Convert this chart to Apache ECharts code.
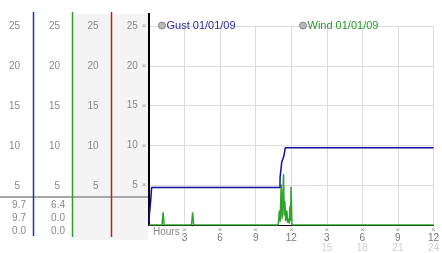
<!DOCTYPE html>
<html>
<head>
<meta charset="utf-8">
<script src="https://cdn.jsdelivr.net/npm/echarts@6/dist/echarts.min.js"></script>
<style>html,body{margin:0;padding:0;background:#fff}#c{width:442px;height:253px}</style>
</head>
<body>
<div id="c"></div>
<script>
// ---- data ----
const gustHours  = [0, 0.04, 0.1, 0.14, 0.22, 11.05, 11.06, 11.18, 11.2, 11.35, 11.37, 11.47, 11.5, 24];
const gustValues = [0.3, 1.4, 1.5, 3.0, 4.7, 4.7, 6.0, 6.1, 7.9, 7.9, 8.6, 8.6, 9.7, 9.7];
const windHours  = [0, 1.1, 1.19, 1.28, 3.59, 3.68, 3.77, 10.9, 11.0, 11.07, 11.15, 11.23, 11.27, 11.35, 11.41, 11.46, 11.54, 11.63, 11.7, 11.77, 11.83, 11.9, 11.94, 11.99, 12.06, 24];
const windValues = [0, 0, 1.6, 0, 0, 1.6, 0, 0, 1.8, 0.4, 5.1, 0.8, 2.2, 6.4, 1.2, 3.0, 0.5, 1.8, 0.3, 0.8, 0.2, 2.4, 0.5, 4.8, 0, 0];
const seriesNames = ['Gust 01/01/09', 'Wind 01/01/09'];
const xTickValues = [3, 6, 9, 12, 15, 18, 21, 24];
const clockLabels = ['3', '6', '9', '12', '3', '6', '9', '12'];
const hourLabels  = ['', '', '', '', '15', '18', '21', '24'];
const gustStats = ['9.7', '9.7', '0.0'];
const windStats = ['6.4', '0.0', '0.0'];

const FONT = 'Liberation Sans';
const gustData = gustHours.map((h, i) => [h, gustValues[i]]);
const windData = windHours.map((h, i) => [h, windValues[i]]);

function yLab(v) { return v === 0 ? '' : String(v); }

const colGrids = [33, 72, 111];
const grids = [{left: 149, right: 5, top: 26, bottom: 27}];
colGrids.forEach(l => grids.push({left: l, width: 1, top: 26, bottom: 27}));

const xAxes = [{
  gridIndex: 0, type: 'value', min: 0, max: 24, interval: 3,
  axisLine: {show: true, lineStyle: {color: '#000', width: 1}},
  axisTick: {show: false},
  splitLine: {show: true, lineStyle: {color: '#dcdcdc', width: 1}},
  axisLabel: {
    margin: 2, fontFamily: FONT,
    formatter: function (v) {
      const i = xTickValues.indexOf(v);
      if (i < 0) return '';
      let s = '{m|×}\n{a|' + clockLabels[i] + '}';
      if (hourLabels[i]) s += '\n{b|' + hourLabels[i] + '}';
      return s;
    },
    rich: {
      m: {fontSize: 8, lineHeight: 6, color: '#999', fontFamily: FONT},
      a: {fontSize: 10, lineHeight: 10, color: '#777', fontFamily: FONT},
      b: {fontSize: 10, lineHeight: 10, color: '#d0d0d0', fontFamily: FONT}
    }
  }
}];
colGrids.forEach((l, i) => xAxes.push({gridIndex: i + 1, type: 'value', show: false, min: 0, max: 1}));

const yAxes = [{
  gridIndex: 0, type: 'value', min: 0, max: 25, interval: 5,
  axisLine: {show: true, lineStyle: {color: '#000', width: 2}},
  axisTick: {show: false},
  splitLine: {show: true, lineStyle: {color: '#dcdcdc', width: 1}},
  axisLabel: {
    margin: 2.5,
    formatter: function (v) { return v === 0 ? '' : '{n|' + v + '}{m|×}'; },
    rich: {
      n: {fontSize: 10, color: '#888', fontFamily: FONT},
      m: {fontSize: 8, color: '#999', fontFamily: FONT, padding: [0, 0, 0, 4]}
    }
  }
}];
const margins = [13, 12, 12.5];
colGrids.forEach((l, i) => yAxes.push({
  gridIndex: i + 1, type: 'value', min: 0, max: 25, interval: 5,
  axisLine: {show: false}, axisTick: {show: false}, splitLine: {show: false},
  axisLabel: {margin: margins[i], color: '#888', fontSize: 10, fontFamily: FONT, formatter: yLab}
}));

const graphics = [
  {type: 'rect', z: -10, shape: {x: 73, y: 14, width: 75, height: 226}, style: {fill: '#f4f4f4'}},
  {type: 'line', z: 50, shape: {x1: 0, y1: 197, x2: 148, y2: 197}, style: {stroke: '#a8a8a8', lineWidth: 2}},
  {type: 'line', z: 51, shape: {x1: 33.5, y1: 12, x2: 33.5, y2: 236}, style: {stroke: '#1c3c9c', lineWidth: 1.5}},
  {type: 'line', z: 51, shape: {x1: 72.5, y1: 12, x2: 72.5, y2: 237}, style: {stroke: '#2e9e2e', lineWidth: 1.5}},
  {type: 'line', z: 51, shape: {x1: 111.5, y1: 12, x2: 111.5, y2: 237}, style: {stroke: '#b02424', lineWidth: 1.5}},
  {type: 'line', z: 51, shape: {x1: 149, y1: 13, x2: 149, y2: 27}, style: {stroke: '#000', lineWidth: 2}},
  {type: 'text', z: 51, x: 153, y: 232, style: {text: 'Hours', fill: '#888', font: '10px "Liberation Sans"', textVerticalAlign: 'middle', textAlign: 'left'}}
];
const statRows = [205, 218, 231.5];
gustStats.forEach((s, i) => graphics.push({type: 'text', z: 51, x: 26, y: statRows[i],
  style: {text: s, fill: '#888', font: '10px "Liberation Sans"', textAlign: 'right', textVerticalAlign: 'middle'}}));
windStats.forEach((s, i) => graphics.push({type: 'text', z: 51, x: 65, y: statRows[i],
  style: {text: s, fill: '#888', font: '10px "Liberation Sans"', textAlign: 'right', textVerticalAlign: 'middle'}}));

const chart = echarts.init(document.getElementById('c'), null, {renderer: 'canvas'});
chart.setOption({
  animation: false,
  backgroundColor: '#fff',
  textStyle: {fontFamily: FONT},
  grid: grids,
  xAxis: xAxes,
  yAxis: yAxes,
  legend: [
    {data: [seriesNames[0]], left: 153, top: 15, icon: 'circle', itemWidth: 7, itemHeight: 7, itemGap: 0,
     textStyle: {color: '#2a2aa6', fontSize: 11, fontFamily: FONT, padding: [0, 0, 0, -4]},
     itemStyle: {color: '#b8b8b8', borderColor: '#888', borderWidth: 1}},
    {data: [seriesNames[1]], left: 294, top: 15, icon: 'circle', itemWidth: 7, itemHeight: 7, itemGap: 0,
     textStyle: {color: '#2a9a2a', fontSize: 11, fontFamily: FONT, padding: [0, 0, 0, -4]},
     itemStyle: {color: '#b8b8b8', borderColor: '#888', borderWidth: 1}}
  ],
  graphic: graphics,
  series: [
    {name: seriesNames[1], type: 'line', xAxisIndex: 0, yAxisIndex: 0, data: windData, showSymbol: false, symbol: 'none',
     lineStyle: {color: '#2ea42e', width: 1.5}, itemStyle: {color: '#2ea42e'}, z: 3},
    {name: seriesNames[0], type: 'line', xAxisIndex: 0, yAxisIndex: 0, data: gustData, showSymbol: false, symbol: 'none',
     lineStyle: {color: '#10109a', width: 1.5}, itemStyle: {color: '#10109a'}, z: 4}
  ]
});
</script>
</body>
</html>
